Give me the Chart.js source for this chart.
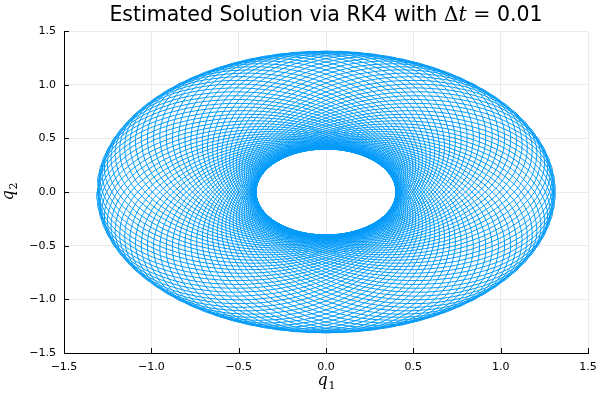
<!DOCTYPE html>
<html>
<head>
<meta charset="utf-8">
<script src="https://cdn.jsdelivr.net/npm/chart.js@4"></script>
<style>
html,body{margin:0;padding:0;background:#fff}
#wrap{width:600px;height:400px}
</style>
</head>
<body>
<div id="wrap"><canvas id="orbitChart" width="600" height="400"></canvas></div>
<script>
// tick labels on both axes
const xTicks = [-1.5, -1.0, -0.5, 0.0, 0.5, 1.0, 1.5]
const yTicks = [-1.5, -1.0, -0.5, 0.0, 0.5, 1.0, 1.5]

// one loop of the orbit: radius from the origin
// at each angle (deg) past the closest point, perihelion 0.40, aphelion 1.31
const loopAngle = [0, 10, 20, 30, 40, 50, 60, 70, 80, 90, 100, 110, 120, 130, 140, 150, 160, 170, 180]
const loopRadius = [0.400, 0.402, 0.409, 0.420, 0.435, 0.457, 0.484, 0.519, 0.561, 0.613,
  0.675, 0.749, 0.835, 0.932, 1.035, 1.137, 1.226, 1.288, 1.310]

// direction (deg) of the closest point for each loop drawn
const perihelionDir = [
  0, 4, 8, 12, 16, 20, 24, 28, 32, 36, 40, 44, 48, 52, 56, 60, 64, 68, 72, 76, 80, 84, 88,
  92, 96, 100, 104, 108, 112, 116, 120, 124, 128, 132, 136, 140, 144, 148, 152, 156, 160, 164, 168, 172, 176,
  180, 184, 188, 192, 196, 200, 204, 208, 212, 216, 220, 224, 228, 232, 236, 240, 244, 248, 252, 256, 260, 264, 268,
  272, 276, 280, 284, 288, 292, 296, 300, 304, 308, 312, 316, 320, 324, 328, 332, 336, 340, 344, 348, 352, 356
]

const blue = "#009afa"

// build the trajectory: each loop runs aphelion -> perihelion -> aphelion
function buildOrbit(){
  const pts = []
  const n = loopAngle.length
  const nu = []
  const rr = []
  for (let i = n - 1; i >= 0; i--) { nu.push(-loopAngle[i]); rr.push(loopRadius[i]) }
  for (let i = 1; i < n; i++) { nu.push(loopAngle[i]); rr.push(loopRadius[i]) }
  perihelionDir.forEach(phi => {
    for (let k = 0; k < nu.length; k++) {
      const th = (phi + nu[k]) * Math.PI / 180
      pts.push({x: rr[k] * Math.cos(th), y: rr[k] * Math.sin(th)})
    }
  })
  return pts
}

function fmt(v){
  const s = Math.abs(v).toFixed(1)
  return v < -1e-9 ? "\u2212" + s : s
}

// title and axis labels with the math parts in a serif face, plus inward ticks
const decorations = {
  id: "decorations",
  afterDraw(chart){
    const c = chart.ctx
    const a = chart.chartArea
    const xs = chart.scales.x
    const ys = chart.scales.y

    c.save()
    c.strokeStyle = "#000"
    c.lineWidth = 1
    c.beginPath()
    xTicks.forEach(v => {
      const px = Math.round(xs.getPixelForValue(v)) + 0.5
      c.moveTo(px, a.bottom)
      c.lineTo(px, a.bottom - 5)
    })
    yTicks.forEach(v => {
      const py = Math.round(ys.getPixelForValue(v)) + 0.5
      c.moveTo(a.left, py)
      c.lineTo(a.left + 5, py)
    })
    c.stroke()

    // title
    const parts = [
      {t: "Estimated Solution via RK4 with ", f: "20.5px 'DejaVu Sans'"},
      {t: "\u0394", f: "20.5px 'DejaVu Serif'"},
      {t: "t", f: "italic 20.5px 'DejaVu Serif'"},
      {t: " = ", f: "20.5px 'DejaVu Serif'"},
      {t: "0.01", f: "20.5px 'DejaVu Sans'"}
    ]
    let total = 0
    parts.forEach(p => { c.font = p.f; p.w = c.measureText(p.t).width; total += p.w })
    let x = (a.left + a.right) / 2 - total / 2
    c.fillStyle = "#000"
    c.textBaseline = "alphabetic"
    c.textAlign = "left"
    parts.forEach(p => { c.font = p.f; c.fillText(p.t, x, 21); x += p.w })

    // x label q1
    c.font = "italic 16px 'DejaVu Serif'"
    const qw = c.measureText("q").width
    c.font = "11px 'DejaVu Serif'"
    const sw = c.measureText("1").width
    let lx = (a.left + a.right) / 2 - (qw + sw) / 2
    c.font = "italic 16px 'DejaVu Serif'"
    c.fillText("q", lx, 385)
    c.font = "11px 'DejaVu Serif'"
    c.fillText("1", lx + qw + 1, 389)

    // y label q2
    c.translate(13, (a.top + a.bottom) / 2)
    c.rotate(-Math.PI / 2)
    lx = -(qw + sw) / 2
    c.font = "italic 16px 'DejaVu Serif'"
    c.fillText("q", lx, 0)
    c.font = "11px 'DejaVu Serif'"
    c.fillText("2", lx + qw + 1, 4)
    c.restore()
  }
}

const ctx = document.getElementById("orbitChart").getContext("2d")

new Chart(ctx, {
  type: "scatter",
  data: {
    datasets: [{
      data: buildOrbit(),
      showLine: true,
      borderColor: blue,
      borderWidth: 1,
      pointRadius: 0,
      tension: 0.4,
      fill: false
    }]
  },
  options: {
    responsive: false,
    animation: false,
    layout: {padding: {left: 0, right: 12, top: 31, bottom: 0}},
    plugins: {
      legend: {display: false},
      title: {display: false},
      tooltip: {enabled: false}
    },
    scales: {
      x: {
        type: "linear",
        min: -1.5, max: 1.5,
        afterFit(s){ s.height = 47; s.paddingLeft = 0; s.paddingRight = 0 },
        afterBuildTicks(s){ s.ticks = xTicks.map(v => ({value: v})) },
        grid: {color: "#ebebeb", lineWidth: 1, drawTicks: false},
        border: {display: true, color: "#000", width: 1},
        ticks: {
          padding: 8,
          color: "#000",
          font: {family: "'DejaVu Sans'", size: 11},
          maxRotation: 0,
          callback: v => fmt(v)
        }
      },
      y: {
        type: "linear",
        min: -1.5, max: 1.5,
        afterFit(s){ s.width = 64; s.paddingTop = 0; s.paddingBottom = 0 },
        afterBuildTicks(s){ s.ticks = yTicks.map(v => ({value: v})) },
        grid: {color: "#ebebeb", lineWidth: 1, drawTicks: false},
        border: {display: true, color: "#000", width: 1},
        ticks: {
          padding: 8,
          color: "#000",
          font: {family: "'DejaVu Sans'", size: 11},
          callback: v => fmt(v)
        }
      }
    }
  },
  plugins: [decorations]
})
</script>
</body>
</html>
